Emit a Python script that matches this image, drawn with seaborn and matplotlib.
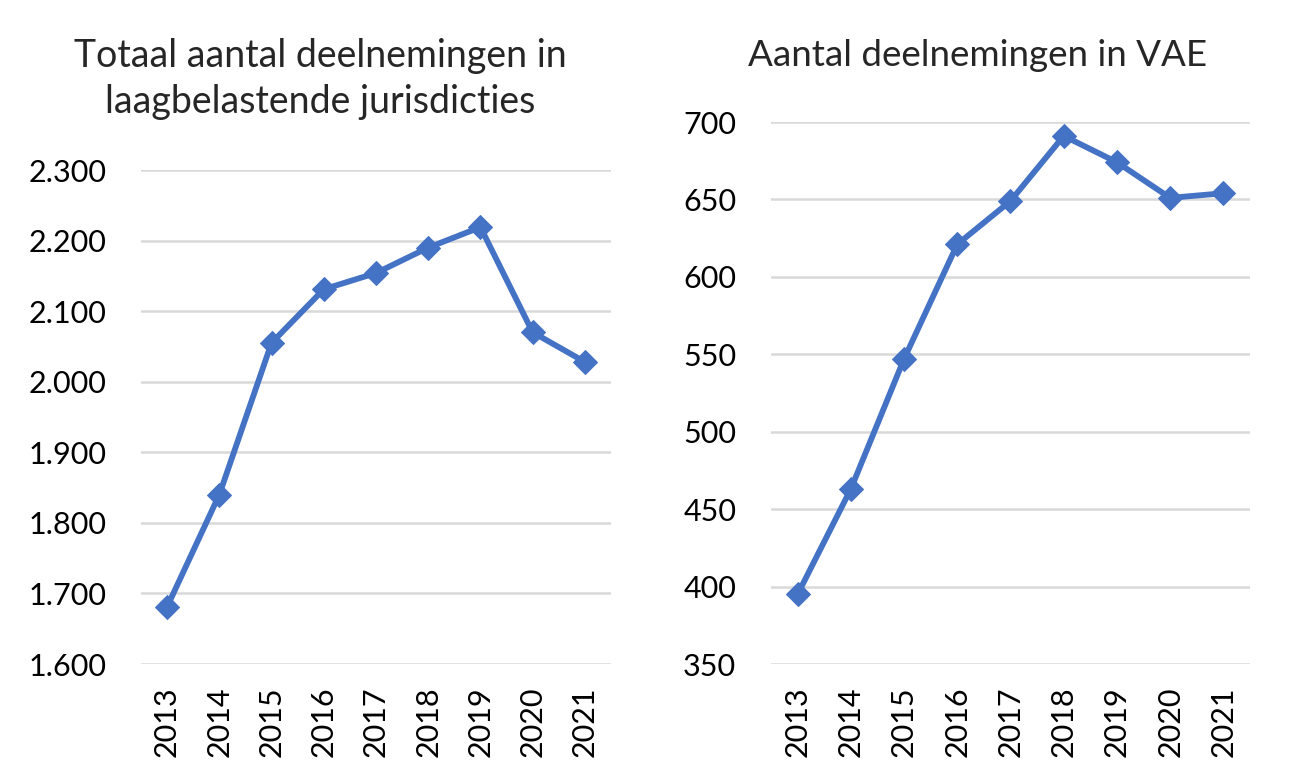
import matplotlib
matplotlib.use("Agg")
import matplotlib.pyplot as plt
from matplotlib.ticker import FuncFormatter
import pandas as pd
import seaborn as sns

years = ['2013', '2014', '2015', '2016', '2017', '2018', '2019', '2020', '2021']
totaal = [1681, 1840, 2055, 2131, 2154, 2190, 2219, 2070, 2028]
vae = [395, 463, 547, 621, 649, 691, 674, 651, 654]

title_left = 'Totaal aantal deelnemingen in\nlaagbelastende jurisdicties'
title_right = 'Aantal deelnemingen in VAE'

sns.set_style('white')
plt.rcParams['font.family'] = ['Lato', 'DejaVu Sans']

blue = '#4472C4'
grid = '#D9D9D9'

fig = plt.figure(figsize=(12.99, 7.83), dpi=100)
W, H = 1299, 783
# axes positions in pixels (left, top, right, bottom)
ax_one = fig.add_axes([141 / W, 1 - 664 / H, (611 - 141) / W, (664 - 170) / H])
ax_two = fig.add_axes([771 / W, 1 - 664 / H, (1250 - 771) / W, (664 - 122) / H])

df1 = pd.DataFrame({'year': years, 'value': totaal})
df2 = pd.DataFrame({'year': years, 'value': vae})


def dotted(v, pos):
    return f'{int(v):,}'.replace(',', '.')


def style(ax, df, lo, hi, step):
    sns.lineplot(data=df, x='year', y='value', ax=ax, color=blue, linewidth=4.2,
                 marker='D', markersize=12, markeredgecolor=blue, sort=False)
    ax.set_xlim(-0.5, len(years) - 0.5)
    ax.set_ylim(lo, hi)
    ax.set_yticks(list(range(lo, hi + 1, step)))
    ax.yaxis.set_major_formatter(FuncFormatter(dotted))
    ax.grid(axis='y', color=grid, linewidth=1.8)
    ax.set_axisbelow(True)
    for s in ax.spines.values():
        s.set_visible(False)
    ax.tick_params(axis='both', length=0, labelsize=22, colors='black')
    ax.tick_params(axis='y', pad=25)
    ax.tick_params(axis='x', pad=16)
    plt.setp(ax.get_xticklabels(), rotation=90)
    ax.set_xlabel('')
    ax.set_ylabel('')
    for line in ax.lines:
        line.set_clip_on(False)


style(ax_one, df1, 1600, 2300, 100)
style(ax_two, df2, 350, 700, 50)

fig.text(320 / W, 1 - 79 / H, title_left, fontsize=27, ha='center', va='center',
         linespacing=1.32)
fig.text(978 / W, 1 - 55 / H, title_right, fontsize=26.5, ha='center', va='center')

fig.savefig('out.png', dpi=100, facecolor='white')
